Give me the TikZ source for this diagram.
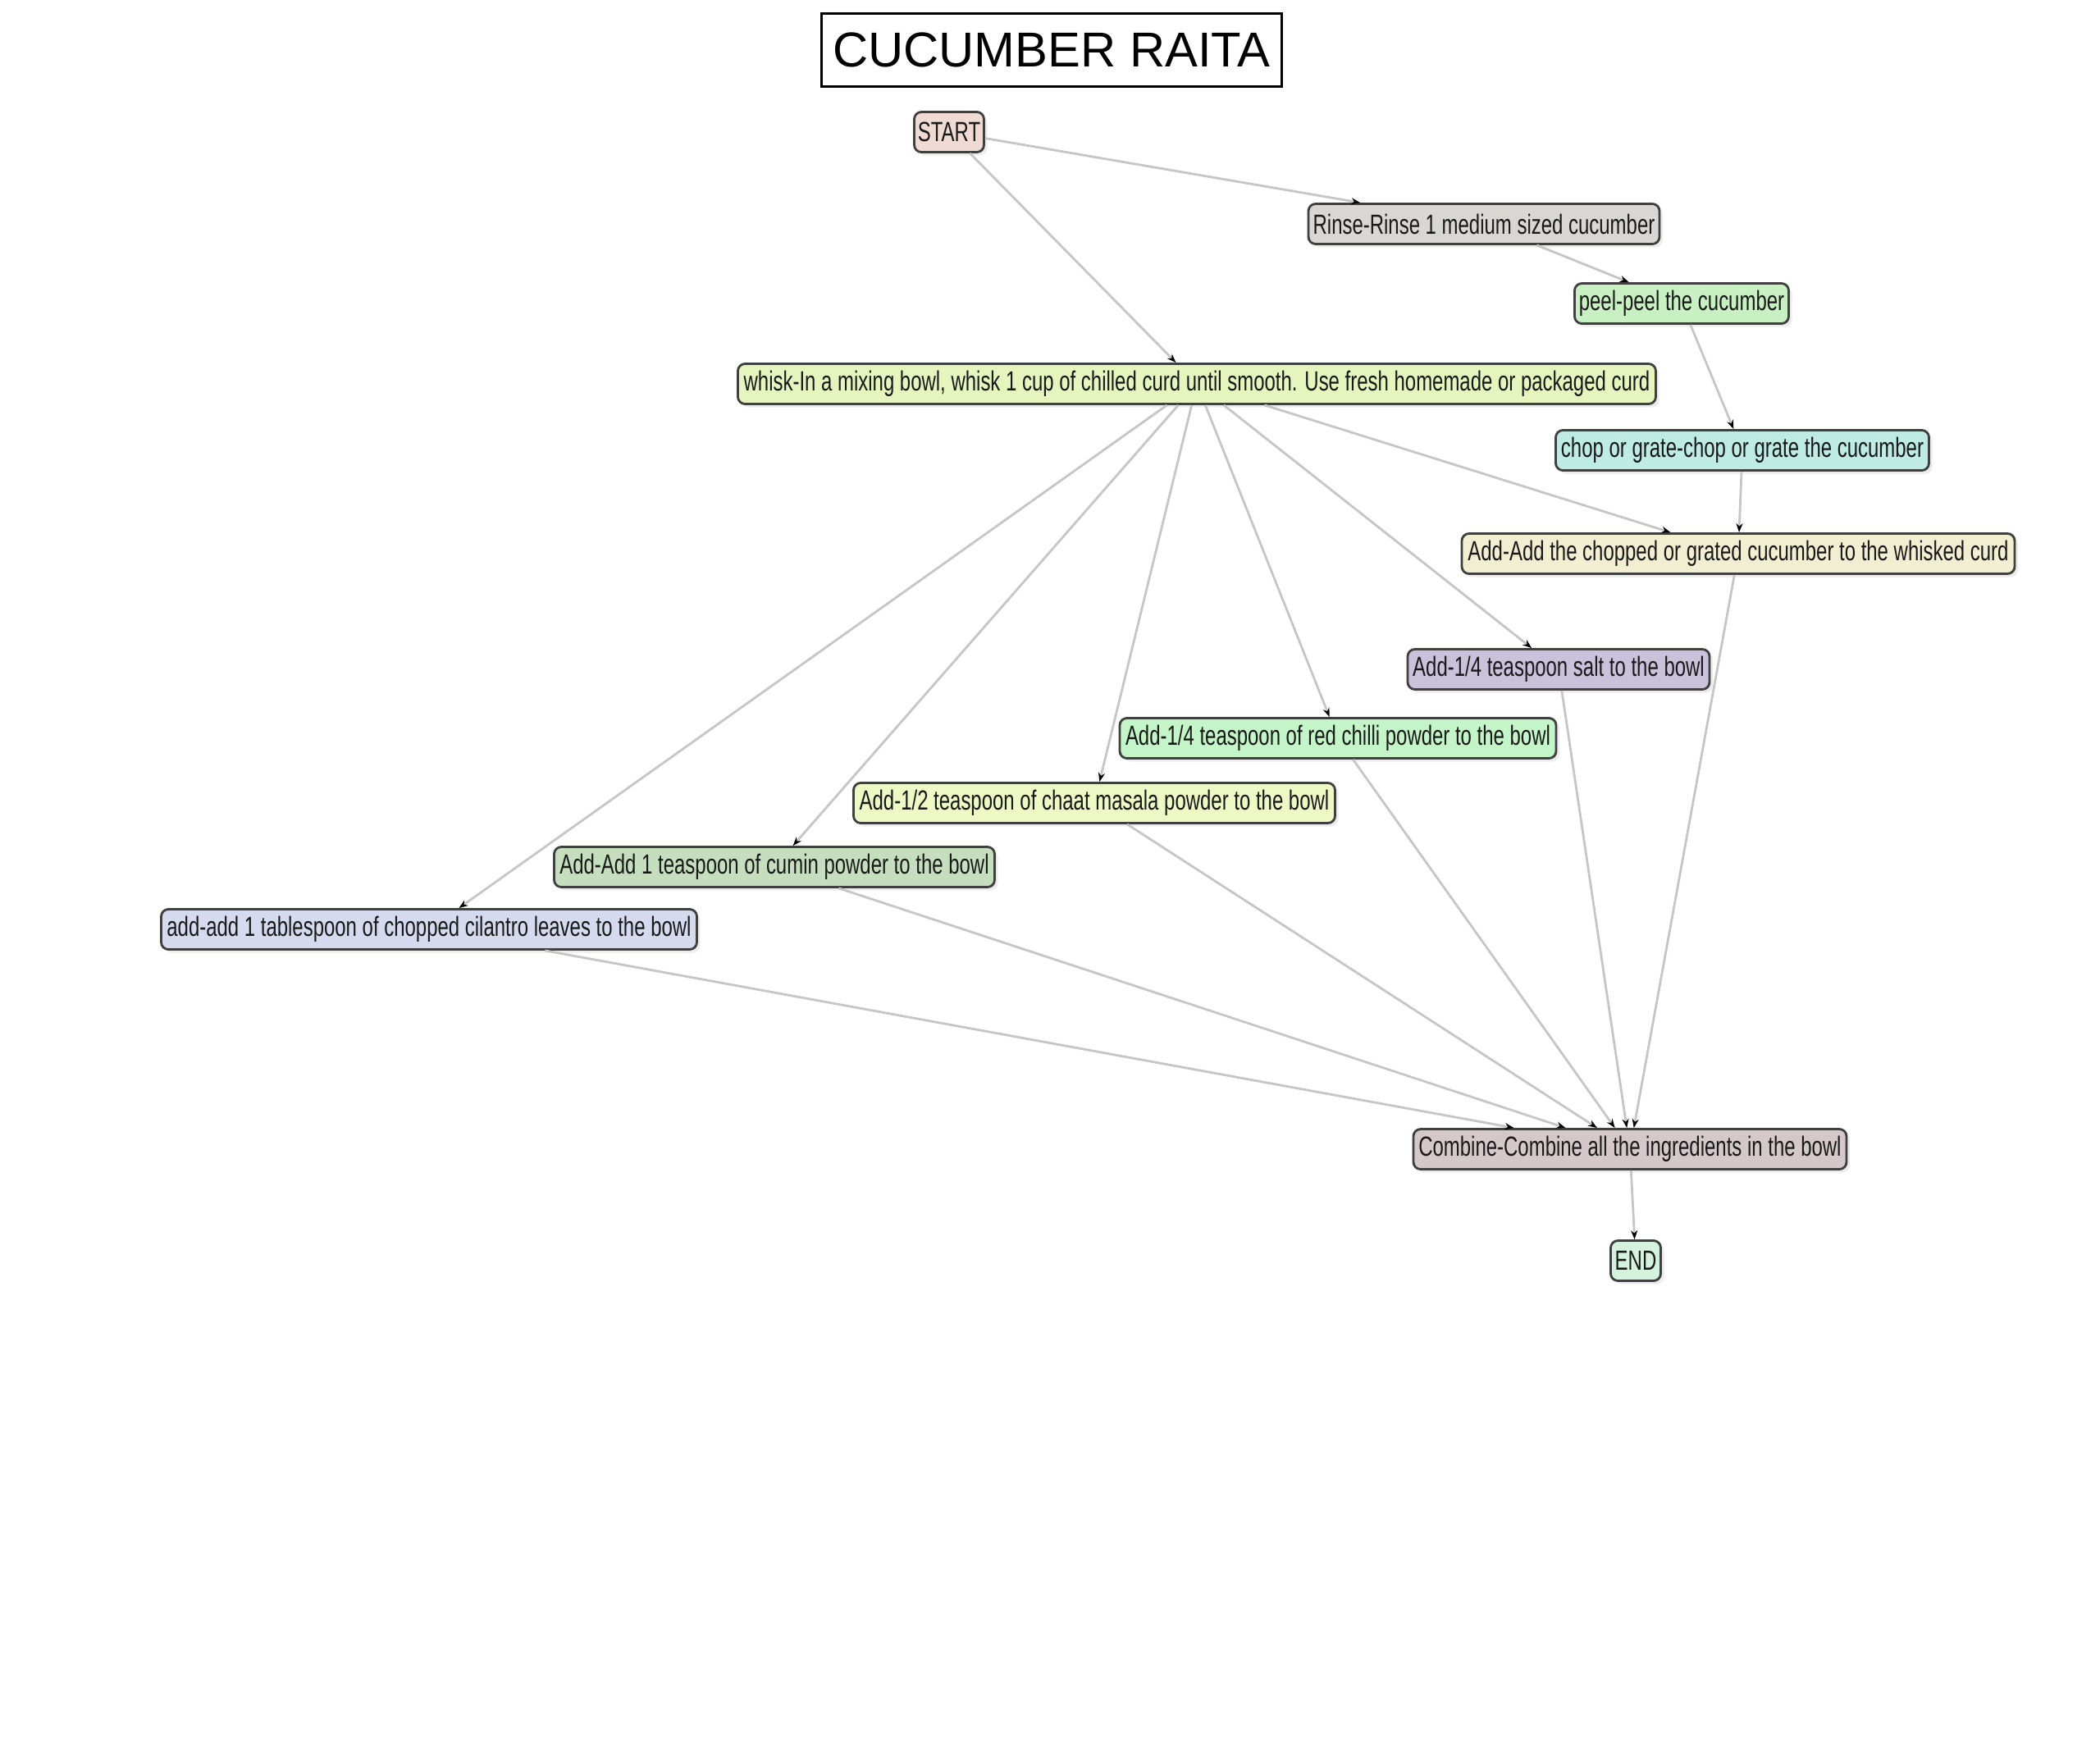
\documentclass[tikz,border=0pt]{standalone}
\usepackage{fontspec}
\setmainfont{Liberation Sans}
\newfontfamily\narrowfont[FakeStretch=0.71]{Liberation Sans}
\usetikzlibrary{arrows.meta, shadows}

\definecolor{startfill}{RGB}{240,218,212}
\definecolor{rinsefill}{RGB}{216,215,212}
\definecolor{peelfill}{RGB}{200,240,195}
\definecolor{whiskfill}{RGB}{230,245,190}
\definecolor{chopfill}{RGB}{190,236,228}
\definecolor{cucfill}{RGB}{242,238,210}
\definecolor{saltfill}{RGB}{202,194,218}
\definecolor{chillifill}{RGB}{196,245,200}
\definecolor{chaatfill}{RGB}{238,248,196}
\definecolor{cuminfill}{RGB}{196,222,190}
\definecolor{cilantrofill}{RGB}{214,218,238}
\definecolor{combinefill}{RGB}{212,200,202}
\definecolor{endfill}{RGB}{212,242,222}

\begin{document}
\begin{tikzpicture}[
    stepnode/.style={draw=black!75, line width=0.8pt, rounded corners=2.5pt,
        minimum height=0.49cm, inner xsep=1pt, inner ysep=0pt, text=black!90,
        font=\narrowfont\fontsize{9.6}{11}\selectfont,
        drop shadow={shadow xshift=0.4mm, shadow yshift=-0.4mm, opacity=0.15}},
    flow/.style={draw=gray!45, line width=0.8pt,
        -{Stealth[length=1.1mm, width=0.8mm, color=black]}}
]
    \useasboundingbox (0.05,-0.01) rectangle (25.65,-21.25);
    \node[draw, line width=0.9pt, minimum width=5.61cm, minimum height=0.89cm,
        font=\fontsize{17}{20}\selectfont] (title) at (12.87,-0.62) {CUCUMBER RAITA};

    \node[stepnode, fill=startfill, minimum width=0.85cm] (start) at (11.62,-1.62) {START};
    \node[stepnode, fill=rinsefill, minimum width=4.28cm] (rinse) at (18.14,-2.74) {Rinse-Rinse 1 medium sized cucumber};
    \node[stepnode, fill=peelfill, minimum width=2.61cm] (peel) at (20.55,-3.71) {peel-peel the cucumber};
    \node[stepnode, fill=whiskfill, minimum width=11.19cm] (whisk) at (14.64,-4.69) {whisk-In a mixing bowl, whisk 1 cup of chilled curd until smooth. Use fresh homemade or packaged curd};
    \node[stepnode, fill=chopfill, minimum width=4.55cm] (chop) at (21.29,-5.50) {chop or grate-chop or grate the cucumber};
    \node[stepnode, fill=cucfill, minimum width=6.74cm] (addcuc) at (21.24,-6.76) {Add-Add the chopped or grated cucumber to the whisked curd};
    \node[stepnode, fill=saltfill, minimum width=3.68cm] (salt) at (19.05,-8.17) {Add-1/4 teaspoon salt to the bowl};
    \node[stepnode, fill=chillifill, minimum width=5.32cm] (chilli) at (16.36,-9.01) {Add-1/4 teaspoon of red chilli powder to the bowl};
    \node[stepnode, fill=chaatfill, minimum width=5.87cm] (chaat) at (13.39,-9.80) {Add-1/2 teaspoon of chaat masala powder to the bowl};
    \node[stepnode, fill=cuminfill, minimum width=5.37cm] (cumin) at (9.49,-10.58) {Add-Add 1 teaspoon of cumin powder to the bowl};
    \node[stepnode, fill=cilantrofill, minimum width=6.53cm] (cilantro) at (5.28,-11.34) {add-add 1 tablespoon of chopped cilantro leaves to the bowl};
    \node[stepnode, fill=combinefill, minimum width=5.28cm] (combine) at (19.92,-14.02) {Combine-Combine all the ingredients in the bowl};
    \node[stepnode, fill=endfill, minimum width=0.61cm] (end) at (19.99,-15.38) {END};

    \draw[flow] (start) -- (rinse);
    \draw[flow] (start) -- (whisk);
    \draw[flow] (rinse) -- (peel);
    \draw[flow] (peel) -- (chop);
    \draw[flow] (chop) -- (addcuc);
    \foreach \target in {addcuc, salt, chilli, chaat, cumin, cilantro}
        \draw[flow] (whisk) -- (\target);
    \foreach \source in {addcuc, salt, chilli, chaat, cumin, cilantro}
        \draw[flow] (\source) -- (combine);
    \draw[flow] (combine) -- (end);
\end{tikzpicture}
\end{document}
